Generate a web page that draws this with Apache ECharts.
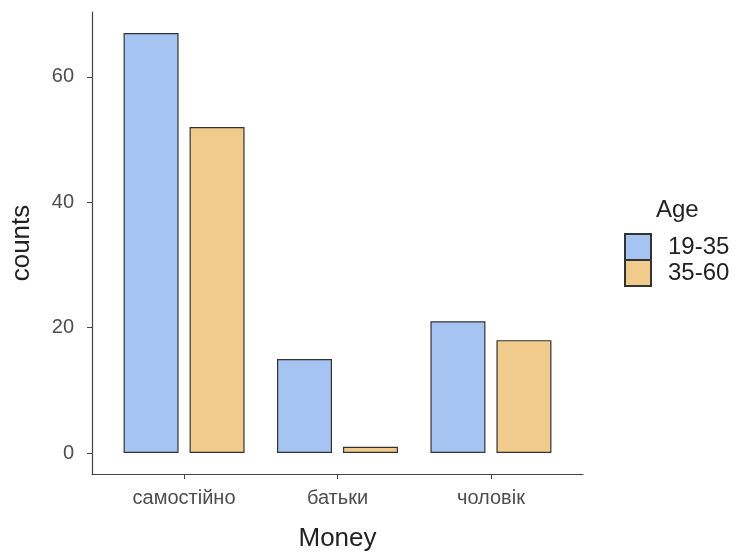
<!DOCTYPE html>
<html>
<head>
<meta charset="utf-8">
<script src="https://cdn.jsdelivr.net/npm/echarts@6/dist/echarts.min.js"></script>
<style>
    html, body { margin: 0; padding: 0; background: #fff; }
    #chart { width: 738px; height: 552px; }
</style>
</head>
<body>
<div id="chart"></div>
<script>
// 数据
var categories = ['самостійно', 'батьки', 'чоловік'];
var ageGroups = ['19-35', '35-60'];
var young = [67, 15, 21];
var older = [52, 1, 18];
var yTicks = [0, 20, 40, 60];

var colors = ['#a6c4f2', '#f0cb8b'];
var font = '"Liberation Sans", Arial, sans-serif';

function toPoints(vals) {
    return vals.map(function (v, i) { return [i + 1, v]; });
}

var myChart = echarts.init(document.getElementById('chart'));

myChart.setOption({
    animation: false,
    textStyle: { fontFamily: font },
    title: {
        text: 'Age',
        left: 651,
        top: 193,
        textStyle: { fontFamily: font, fontSize: 24, fontWeight: 'normal', color: '#222' }
    },
    legend: {
        orient: 'vertical',
        left: 619,
        top: 228,
        itemWidth: 26,
        itemHeight: 26,
        itemGap: -2,
        icon: 'rect',
        data: ageGroups,
        textStyle: { fontFamily: font, fontSize: 24, lineHeight: 26, color: '#222', padding: [0, 0, 0, 12] }
    },
    grid: {
        left: 92,
        right: 155,
        top: 12,
        bottom: 78,
        containLabel: false,
        outerBoundsMode: 'none'
    },
    xAxis: {
        type: 'value',
        min: 0.4,
        max: 3.6,
        name: 'Money',
        nameLocation: 'middle',
        nameGap: 52,
        nameTextStyle: { fontFamily: font, fontSize: 26, color: '#222' },
        splitLine: { show: false },
        axisLine: { show: true, onZero: false, lineStyle: { color: '#444', width: 1.2 } },
        axisTick: { show: true, length: 5, customValues: [1, 2, 3], lineStyle: { color: '#444' } },
        axisLabel: {
            customValues: [1, 2, 3],
            margin: 14,
            fontSize: 20,
            color: '#4d4d4d',
            fontFamily: font,
            formatter: function (v) { return categories[Math.round(v) - 1] || ''; }
        }
    },
    yAxis: {
        type: 'value',
        min: -3.35,
        max: 70.35,
        name: 'counts',
        nameLocation: 'middle',
        nameGap: 57,
        nameTextStyle: { fontFamily: font, fontSize: 26, color: '#222' },
        splitLine: { show: false },
        axisLine: { show: true, onZero: false, lineStyle: { color: '#444', width: 1.2 } },
        axisTick: { show: true, length: 5, customValues: yTicks, lineStyle: { color: '#444' } },
        axisLabel: {
            customValues: yTicks,
            margin: 18,
            fontSize: 20,
            color: '#4d4d4d',
            fontFamily: font
        }
    },
    series: [
        {
            name: ageGroups[0],
            type: 'bar',
            data: toPoints(young),
            barWidth: 55,
            barGap: '20%',
            itemStyle: { color: colors[0], borderColor: '#333', borderWidth: 1.2 }
        },
        {
            name: ageGroups[1],
            type: 'bar',
            data: toPoints(older),
            barWidth: 55,
            barGap: '20%',
            itemStyle: { color: colors[1], borderColor: '#333', borderWidth: 1.2 }
        }
    ]
});
</script>
</body>
</html>
